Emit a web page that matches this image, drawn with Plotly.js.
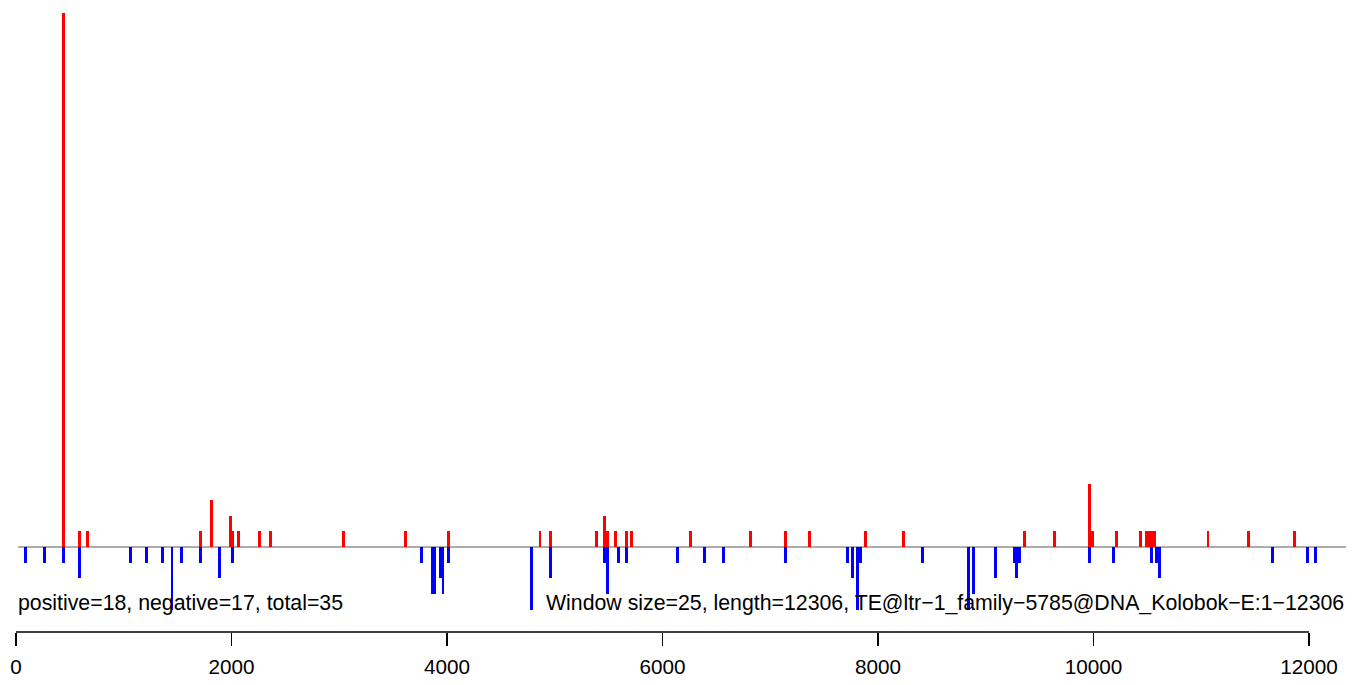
<!DOCTYPE html>
<html>
<head>
<meta charset="utf-8">
<script src="https://cdn.plot.ly/plotly-3.0.1.min.js"></script>
<style>
  html, body { margin: 0; padding: 0; background: #fff; }
  #chart { width: 1369px; height: 685px; }
</style>
</head>
<body>
<div id="chart"></div>
<script>
// Window start positions (bp) with counts on the positive strand
const posX = [425, 575, 650, 1700, 1800, 1975, 2000, 2050, 2250, 2350, 3025, 3600, 4000,
  4850, 4950, 5375, 5450, 5475, 5550, 5650, 5700, 6250, 6800, 7125, 7350, 7875, 8225,
  9350, 9625, 9950, 9975, 10200, 10425, 10475, 10500, 10525, 10550, 11050, 11425, 11850];
const posY = [34, 1, 1, 1, 3, 2, 1, 1, 1, 1, 1, 1, 1,
  1, 1, 1, 2, 1, 1, 1, 1, 1, 1, 1, 1, 1, 1,
  1, 1, 4, 1, 1, 1, 1, 1, 1, 1, 1, 1, 1];

// Window start positions (bp) with counts on the negative strand
const negX = [75, 250, 425, 575, 1050, 1200, 1350, 1435, 1525, 1700, 1875, 2000,
  3750, 3850, 3875, 3925, 3950, 4000, 4775, 4950, 5450, 5475, 5575, 5650,
  6125, 6375, 6550, 7125, 7700, 7750, 7800, 7825, 8400, 8825, 8875, 9075,
  9250, 9275, 9300, 9950, 10175, 10525, 10575, 10600, 11650, 11975, 12050];
const negY = [-1, -1, -1, -2, -1, -1, -1, -4, -1, -1, -2, -1,
  -1, -3, -3, -2, -3, -1, -4, -2, -1, -3, -1, -1,
  -1, -1, -1, -1, -1, -2, -4, -1, -1, -4, -3, -2,
  -1, -2, -1, -1, -1, -1, -1, -2, -1, -1, -1];

const tickVals = [0, 2000, 4000, 6000, 8000, 10000, 12000];
const tickText = ['0', '2000', '4000', '6000', '8000', '10000', '12000'];

const leftLabel = 'positive=18, negative=17, total=35';
const rightLabel = 'Window size=25, length=12306, TE@ltr\u22121_family\u22125785@DNA_Kolobok\u2212E:1\u221212306';

const barWidth = 27;
const FONT = 'Liberation Sans, Arial, Helvetica, sans-serif';

const traces = [
  { type: 'bar', x: posX, y: posY, width: barWidth, offset: -1, marker: { color: '#FF0000', line: { width: 0 } }, hoverinfo: 'x+y' },
  { type: 'bar', x: negX, y: negY, width: barWidth, offset: -1, marker: { color: '#0000FF', line: { width: 0 } }, hoverinfo: 'x+y' }
];

const layout = {
  width: 1369, height: 685,
  margin: { l: 16, r: 23, t: 0, b: 53, pad: 0 },
  paper_bgcolor: '#ffffff', plot_bgcolor: '#ffffff',
  showlegend: false,
  barmode: 'overlay',
  bargap: 0,
  font: { family: FONT, size: 20, color: '#000' },
  xaxis: {
    range: [0, 12343],
    showgrid: false, zeroline: false, showline: false,
    ticks: 'outside', ticklen: 13, tickwidth: 1.5, tickcolor: '#000',
    ticklabelstandoff: 3,
    tickmode: 'array', tickvals: tickVals, ticktext: tickText,
    tickfont: { family: FONT, size: 20.7, color: '#000' },
    fixedrange: true
  },
  yaxis: {
    range: [-5.414, 34.84],
    visible: false, showgrid: false, zeroline: false, fixedrange: true
  },
  shapes: [
    { type: 'line', layer: 'below', xref: 'paper', yref: 'y', x0: 0.0015, x1: 1, y0: 0, y1: 0,
      line: { color: '#5a5a5a', width: 1 } },
    { type: 'line', xref: 'x', yref: 'paper', x0: 0, x1: 12000, y0: 0, y1: 0,
      line: { color: '#000000', width: 1.5 } }
  ],
  annotations: [
    { xref: 'paper', yref: 'paper', x: 0.0, y: 0.0459, xanchor: 'left', yanchor: 'middle',
      text: leftLabel, showarrow: false, font: { family: FONT, size: 21.3, color: '#000' } },
    { xref: 'paper', yref: 'paper', x: 1, y: 0.0459, xanchor: 'right', yanchor: 'middle',
      text: rightLabel, showarrow: false, font: { family: FONT, size: 21.3, color: '#000' } }
  ]
};

Plotly.newPlot('chart', traces, layout, { displayModeBar: false, staticPlot: true });
</script>
</body>
</html>
